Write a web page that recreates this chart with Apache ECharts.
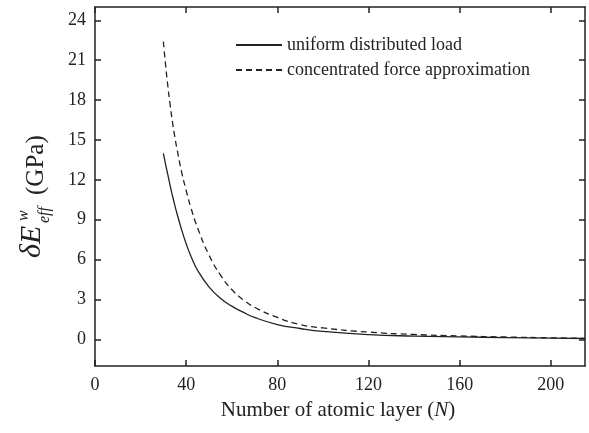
<!DOCTYPE html>
<html>
<head>
<meta charset="utf-8">
<script src="https://cdn.jsdelivr.net/npm/echarts@6/dist/echarts.min.js"></script>
<style>html,body{margin:0;padding:0;background:#fff}#c{width:589px;height:433px}</style>
</head>
<body>
<div id="c"></div>
<script>
const layersN = [30, 31, 32, 33, 34, 35, 36, 38, 40, 42, 45, 50, 55, 60, 65, 70, 80, 90, 100, 120, 140, 160, 180, 200, 215];
const uniformLoad = [14.0, 13.15, 12.35, 11.55, 10.8, 10.1, 9.45, 8.25, 7.2, 6.3, 5.2, 3.95, 3.1, 2.5, 2.05, 1.65, 1.12, 0.82, 0.60, 0.36, 0.25, 0.19, 0.14, 0.10, 0.07];
const concentratedForce = [22.4, 20.6, 19.0, 17.6, 16.35, 15.25, 14.3, 12.6, 11.2, 9.95, 8.4, 6.35, 4.85, 3.75, 2.98, 2.42, 1.65, 1.12, 0.86, 0.55, 0.37, 0.26, 0.18, 0.12, 0.08];
const xTicks = [0, 40, 80, 120, 160, 200];
const yTicks = [0, 3, 6, 9, 12, 15, 18, 21, 24];
const seriesNames = ['uniform distributed load', 'concentrated force approximation'];

const FONT = '"Liberation Serif", "DejaVu Serif", serif';
const INK = '#222';

const chart = echarts.init(document.getElementById('c'));
const axisCommon = {
  axisLine: { show: true, onZero: false, lineStyle: { color: INK, width: 1.5 } },
  splitLine: { show: false },
  axisTick: { show: true, inside: true, length: 6, lineStyle: { color: INK, width: 1.5 } }
};

chart.setOption({
  animation: false,
  backgroundColor: '#fff',
  grid: { left: 95, right: 4, top: 7, bottom: 67 },
  legend: {
    orient: 'vertical',
    left: 230,
    top: 31,
    itemWidth: 46,
    itemHeight: 14,
    itemGap: 7,
    data: seriesNames,
    itemStyle: { opacity: 0 },
    textStyle: { fontFamily: FONT, fontSize: 18, color: INK }
  },
  xAxis: [
    Object.assign({}, axisCommon, {
      type: 'value', min: 0, max: 215, position: 'bottom',
      axisTick: Object.assign({}, axisCommon.axisTick, { customValues: xTicks }),
      axisLabel: { customValues: xTicks, fontFamily: FONT, fontSize: 18, color: INK, margin: 10 }
    }),
    Object.assign({}, axisCommon, {
      type: 'value', min: 0, max: 215, position: 'top',
      axisTick: Object.assign({}, axisCommon.axisTick, { customValues: xTicks }),
      axisLabel: { show: false }
    })
  ],
  yAxis: [
    Object.assign({}, axisCommon, {
      type: 'value', min: -2, max: 25, position: 'left',
      axisTick: Object.assign({}, axisCommon.axisTick, { customValues: yTicks }),
      axisLabel: { customValues: yTicks, fontFamily: FONT, fontSize: 18, color: INK, margin: 9 }
    }),
    Object.assign({}, axisCommon, {
      type: 'value', min: -2, max: 25, position: 'right',
      axisTick: Object.assign({}, axisCommon.axisTick, { customValues: yTicks }),
      axisLabel: { show: false }
    })
  ],
  series: [
    {
      name: seriesNames[0], type: 'line', symbol: 'none', showSymbol: false, smooth: 0.5,
      data: layersN.map((n, i) => [n, uniformLoad[i]]),
      lineStyle: { color: INK, width: 1.3, type: 'solid' },
      itemStyle: { color: INK }
    },
    {
      name: seriesNames[1], type: 'line', symbol: 'none', showSymbol: false, smooth: 0.5,
      data: layersN.map((n, i) => [n, concentratedForce[i]]),
      lineStyle: { color: INK, width: 1.3, type: [6, 4] },
      itemStyle: { color: INK }
    }
  ],
  graphic: [
    {
      type: 'text', x: 338, y: 410,
      style: {
        text: '{r|Number of atomic layer (}{i|N}{r|)}',
        align: 'center', verticalAlign: 'middle',
        rich: {
          r: { fontFamily: FONT, fontSize: 21, fill: INK },
          i: { fontFamily: FONT, fontSize: 21, fontStyle: 'italic', fill: INK }
        }
      }
    },
    {
      type: 'group', x: 47, y: 258, rotation: Math.PI / 2,
      children: [
        { type: 'text', x: 0, y: 0, style: { text: 'δE', fontFamily: FONT, fontSize: 30, fontStyle: 'italic', fill: INK, verticalAlign: 'bottom' } },
        { type: 'text', x: 37, y: -15, style: { text: 'w', fontFamily: FONT, fontSize: 16, fontStyle: 'italic', fill: INK, verticalAlign: 'bottom' } },
        { type: 'text', x: 35, y: 6, style: { text: 'eff', fontFamily: FONT, fontSize: 16, fontStyle: 'italic', fill: INK, verticalAlign: 'bottom' } },
        { type: 'text', x: 63, y: 2, style: { text: '(GPa)', fontFamily: FONT, fontSize: 25, fill: INK, verticalAlign: 'bottom' } }
      ]
    }
  ]
});
</script>
</body>
</html>
